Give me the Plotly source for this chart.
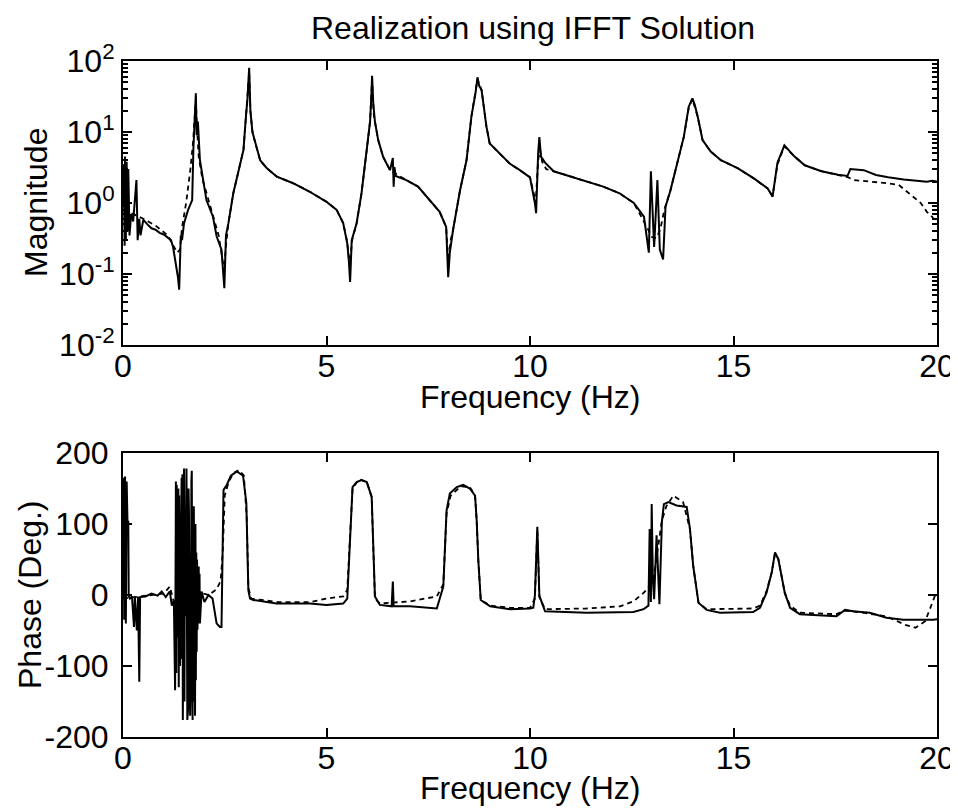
import plotly.graph_objects as go

# ---------------- data ----------------
mag_freq_solid = [0.00, 0.02, 0.04, 0.05, 0.07, 0.09, 0.11, 0.13, 0.16, 0.20, 0.25, 0.30, 0.33, 0.36, 0.40, 0.43,
                  0.50, 0.60, 0.70, 0.80, 0.90, 1.00, 1.10, 1.18, 1.23, 1.30, 1.35, 1.38, 1.42, 1.45, 1.50,
                  1.60, 1.70, 1.73, 1.76, 1.79, 1.81, 1.84, 1.89, 2.05, 2.21, 2.30, 2.42, 2.46, 2.49, 2.53,
                  2.59, 2.71, 2.83, 2.96, 3.02, 3.06, 3.10, 3.13, 3.18, 3.25, 3.37, 3.53, 3.78, 4.18, 4.59,
                  5.00, 5.25, 5.41, 5.51, 5.55, 5.58, 5.62, 5.74, 5.86, 5.99, 6.07, 6.10, 6.12, 6.15, 6.19,
                  6.27, 6.39, 6.56, 6.63, 6.65, 6.67, 6.70, 6.96, 7.25, 7.53, 7.78, 7.94, 7.99, 8.03, 8.11,
                  8.28, 8.44, 8.56, 8.66, 8.71, 8.75, 8.81, 8.93, 9.01, 9.26, 9.50, 9.75, 10.00, 10.12, 10.15,
                  10.20, 10.23, 10.27, 10.37, 10.58, 10.99, 11.40, 11.80, 12.20, 12.55, 12.80, 12.92, 12.97,
                  13.05, 13.13, 13.19, 13.27, 13.33, 13.45, 13.62, 13.78, 13.90, 13.99, 14.05, 14.12, 14.24,
                  14.44, 14.69, 15.10, 15.51, 15.84, 15.96, 16.08, 16.25, 16.50, 16.75, 17.16, 17.57, 17.80,
                  17.87, 18.00, 18.20, 18.50, 18.80, 19.18, 19.50, 19.75, 19.88, 20.00]
mag_solid = [0.9, 3.5, 0.25, 4.5, 0.3, 3.8, 0.4, 3.0, 0.35, 0.7, 0.55, 1.2, 2.1, 0.3, 0.6, 0.35,
             0.58, 0.5, 0.44, 0.42, 0.38, 0.36, 0.33, 0.3, 0.24, 0.14, 0.09, 0.06, 0.35, 0.3, 0.52,
             0.8, 1.1, 5.9, 12, 35, 9, 14, 4.0, 1.1, 0.64, 0.34, 0.22, 0.12, 0.063, 0.35,
             0.52, 1.37, 2.6, 5.6, 16.5, 30, 80, 20, 10, 7.0, 4.0, 3.1, 2.35, 1.9, 1.44,
             1.04, 0.8, 0.52, 0.27, 0.15, 0.077, 0.3, 0.52, 1.37, 5.6, 14, 30, 62, 25, 14,
             7.7, 4.5, 2.9, 4.3, 1.7, 3.2, 2.4, 2.1, 1.7, 1.1, 0.75, 0.46, 0.09, 0.2, 0.42,
             1.5, 4.0, 16.5, 35, 59, 45, 39, 11.9, 6.9, 5.0, 3.6, 2.9, 2.3, 1.0, 0.72,
             5.0, 8.5, 4.5, 3.7, 2.8, 2.35, 2.0, 1.7, 1.37, 1.0, 0.64, 0.2, 2.8,
             0.24, 2.1, 0.22, 0.16, 0.89, 1.5, 3.7, 8.6, 22.7, 29.7, 24, 16.5, 7.7,
             5.3, 4.0, 3.1, 2.2, 1.6, 1.23, 3.7, 6.5, 4.5, 3.4, 2.8, 2.5, 2.4,
             3.0, 2.95, 2.9, 2.48, 2.3, 2.15, 2.05, 2.0, 2.05, 2.0]

mag_freq_dashed = [0.00, 0.20, 0.50, 0.80, 1.10, 1.25, 1.33, 1.40, 1.45, 1.55, 1.65, 1.72, 1.77, 1.79, 1.81,
                   1.86, 1.95, 2.10, 2.25, 2.35, 2.43, 2.48, 2.53, 2.59, 2.71, 2.83, 2.96, 3.02, 3.06, 3.10,
                   3.13, 3.18, 3.25, 3.37, 3.53, 3.78, 4.18, 4.59, 5.00, 5.25, 5.41, 5.51, 5.57, 5.63, 5.74,
                   5.86, 5.99, 6.07, 6.12, 6.16, 6.19, 6.27, 6.39, 6.56, 6.96, 7.25, 7.53, 7.78, 7.94, 7.99,
                   8.05, 8.11, 8.28, 8.44, 8.56, 8.66, 8.71, 8.81, 8.93, 9.01, 9.26, 9.50, 9.75, 10.00, 10.10,
                   10.14, 10.20, 10.25, 10.30, 10.40, 10.58, 10.99, 11.40, 11.80, 12.20, 12.55, 12.75, 12.90,
                   13.00, 13.10, 13.20, 13.30, 13.45, 13.62, 13.78, 13.90, 13.99, 14.12, 14.24, 14.44, 14.69,
                   15.10, 15.51, 15.84, 15.96, 16.08, 16.25, 16.50, 16.75, 17.16, 17.57, 17.82, 17.96, 18.40,
                   18.78, 19.06, 19.27, 19.45, 19.60, 19.75, 19.88, 19.94, 20.00]
mag_dashed = [0.78, 0.72, 0.6, 0.48, 0.35, 0.25, 0.2, 0.22, 0.45, 1.0, 2.8, 7, 18, 28, 14,
              4.5, 2.2, 1.1, 0.6, 0.35, 0.18, 0.11, 0.25, 0.52, 1.37, 2.6, 5.6, 16, 30, 70,
              20, 10, 7.0, 4.0, 3.1, 2.35, 1.9, 1.44, 1.04, 0.8, 0.52, 0.28, 0.13, 0.3, 0.52,
              1.37, 5.6, 14, 55, 18, 14, 7.7, 4.5, 2.9, 2.1, 1.7, 1.1, 0.75, 0.46, 0.15,
              0.3, 0.42, 1.5, 4.0, 16.5, 35, 55, 39, 11.9, 6.9, 5.0, 3.6, 2.9, 2.3, 1.3,
              1.0, 4.0, 5.5, 3.8, 3.0, 2.8, 2.35, 2.0, 1.7, 1.37, 1.0, 0.62, 0.42,
              0.33, 0.32, 0.42, 0.8, 1.5, 3.7, 8.6, 22, 29, 16.5, 7.7, 5.3, 4.0,
              3.1, 2.2, 1.6, 1.25, 3.5, 6.3, 4.5, 3.4, 2.8, 2.5, 2.3, 2.1, 2.0,
              1.9, 1.8, 1.44, 1.2, 1.0, 0.75, 0.64, 0.57, 0.6]

ph_freq_solid = [0.00, 0.02, 0.03, 0.05, 0.07, 0.09, 0.11, 0.13, 0.14, 0.17, 0.22, 0.27, 0.29, 0.34, 0.37,
                 0.40, 0.42, 0.55, 0.70, 0.85, 0.95, 1.05, 1.15, 1.20,
                 1.25, 1.28, 1.30, 1.31, 1.32, 1.33, 1.36, 1.37, 1.38, 1.40,
                 1.44, 1.45, 1.46, 1.47, 1.50, 1.51, 1.52, 1.53, 1.56, 1.58,
                 1.60, 1.61, 1.62, 1.65, 1.67, 1.68, 1.69, 1.71, 1.72, 1.73,
                 1.74, 1.77, 1.78, 1.79, 1.80, 1.81, 1.82, 1.83, 1.84, 1.85,
                 1.86, 1.87, 1.88, 1.89, 1.93,
                 2.00, 2.10, 2.20, 2.30, 2.38, 2.42, 2.45, 2.47, 2.55, 2.65, 2.80, 2.95, 3.03,
                 3.06, 3.08, 3.12, 3.20, 3.77, 4.59, 5.00, 5.41, 5.51, 5.58, 5.64, 5.74, 5.86, 5.99, 6.11,
                 6.15, 6.19, 6.31, 6.60, 6.63, 6.65, 7.05, 7.71, 7.87, 7.95, 8.03, 8.20, 8.36, 8.52, 8.65,
                 8.69, 8.73, 8.79, 9.02, 9.51, 10.00, 10.08, 10.12, 10.18, 10.23, 10.37, 11.39, 12.21, 12.54,
                 12.79, 12.91, 12.94, 12.97, 12.99, 13.02, 13.05, 13.11, 13.18, 13.24, 13.29, 13.40, 13.60,
                 13.85, 13.93, 14.01, 14.14, 14.34, 14.67, 15.48, 15.65, 15.81, 15.94, 16.02, 16.10, 16.18,
                 16.26, 16.39, 16.63, 17.53, 17.74, 17.94, 18.35, 18.76, 19.17, 19.91, 20.00]
ph_solid = [-5, 165, -35, 167, -40, 160, 103, 103, -2, -5, -2, -45, -2, -50, -2,
            -122, -3, -2, 2, -1, 5, -3, 5, -15,
            -8, -134, 160, -110, 155, -60, 150, -130, 140, -100,
            165, -90, 170, -176, 178, -150, 100, -30, 178, -176,
            -160, 150, 120, -170, -120, 160, 175, -176, 80, -150,
            125, -170, 100, -120, 60, -80, 50, -49, 20, -40,
            40, -30, 30, -40, 5,
            -10, 0, -5, -40, -45, -45, 73, 148, 155, 168, 174, 168, 130,
            60, 7, -5, -7, -12, -12, -14, -12, -5, 87, 152, 159, 162, 159, 138,
            68, -2, -14, -16, 19, -16, -16, -19, 12, 119, 143, 152, 155, 150, 140,
            105, 49, -7, -16, -20, -19, -18, -1, 96, -1, -23, -25, -25, -24,
            -20, -15, 93, -10, 128, 20, -6, 84, -13, 103, 128, 131, 126,
            124, 93, 41, -11, -21, -25, -24, -18, 3, 32, 60, 51, 27,
            3, -18, -27, -30, -21, -23, -25, -32, -35, -35, -34]

ph_freq_dashed = [0.00, 0.30, 0.70, 1.00, 1.15, 1.25, 1.50, 1.80, 2.10, 2.30, 2.40, 2.45, 2.50, 2.60, 2.72,
                  2.85, 2.97, 3.04, 3.08, 3.15, 3.80, 4.60, 5.00, 5.41, 5.51, 5.58, 5.64, 5.80, 5.99, 6.11,
                  6.15, 6.19, 6.31, 7.05, 7.71, 7.87, 7.95, 8.05, 8.30, 8.52, 8.65, 8.69, 8.73, 8.79, 9.02,
                  9.51, 10.00, 10.12, 10.18, 10.23, 10.37, 11.39, 12.21, 12.54, 12.79, 12.87, 13.03, 13.15,
                  13.24, 13.35, 13.52, 13.76, 13.93, 14.01, 14.14, 14.34, 14.67, 15.48, 15.65, 15.81, 15.94,
                  16.02, 16.10, 16.18, 16.26, 16.39, 16.63, 17.53, 17.74, 17.94, 18.76, 19.22, 19.47, 19.71,
                  19.84, 19.95, 20.00]
ph_dashed = [-5, -3, 0, 2, 12, -10, 0, 5, 0, 8, 20, 60, 140, 160, 172,
             176, 168, 110, 10, -5, -10, -10, -5, -2, 7, 80, 150, 163, 159, 138,
             68, -5, -12, -9, -2, 15, 115, 140, 153, 152, 140, 105, 49, -7, -15,
             -18, -18, -5, 90, -3, -20, -19, -16, -9, 3, 8, 20, 65,
             105, 125, 140, 131, 93, 41, -11, -20, -20, -19, -15, 5, 32,
             58, 51, 27, 3, -15, -25, -27, -22, -23, -30, -42, -46, -37,
             -16, -1, 0]

x_tickvals = [0, 5, 10, 15, 20]
mag_tickvals = [0.01, 0.1, 1, 10, 100]
mag_ticktext = ["10<sup>-2</sup>", "10<sup>-1</sup>", "10<sup>0</sup>", "10<sup>1</sup>", "10<sup>2</sup>"]
mag_minor = [m * 10.0 ** k for k in range(-2, 2) for m in range(2, 10)]
ph_tickvals = [-200, -100, 0, 100, 200]
ph_ticktext = ["-200", "-100", "0", "100", "200"]

title_text = "Realization using IFFT Solution"
xlabel_text = "Frequency (Hz)"
ylabel_top = "Magnitude"
ylabel_bottom = "Phase (Deg.)"

# ---------------- layout helpers ----------------
# The page body has an 8px margin, so the figure starts at window pixel (8, 8);
# px()/py() convert window pixel positions to paper coordinates.
OFF = 8
W, H = 950, 804
FONT = "Liberation Sans, Arial, Helvetica, sans-serif"
FS = 32


def px(xp):
    return (xp - OFF) / W


def py(yp):
    return 1 - (yp - OFF) / H


fig = go.Figure()
solid = dict(color="black", width=2)
dashed = dict(color="black", width=1.8, dash="5px,4px")
fig.add_trace(go.Scatter(x=mag_freq_dashed, y=mag_dashed, mode="lines", line=dashed, xaxis="x", yaxis="y"))
fig.add_trace(go.Scatter(x=mag_freq_solid, y=mag_solid, mode="lines", line=solid, xaxis="x", yaxis="y"))
fig.add_trace(go.Scatter(x=ph_freq_dashed, y=ph_dashed, mode="lines", line=dashed, xaxis="x2", yaxis="y2"))
fig.add_trace(go.Scatter(x=ph_freq_solid, y=ph_solid, mode="lines", line=solid, xaxis="x2", yaxis="y2"))

axis_common = dict(
    showline=True, mirror="ticks", linecolor="black", linewidth=2,
    ticks="inside", ticklen=9, tickwidth=2, tickcolor="black",
    showgrid=False, zeroline=False, automargin=False,
    tickfont=dict(family=FONT, size=FS, color="black"),
)
xdom = [px(123), px(937)]
fig.update_layout(
    width=W, height=H,
    margin=dict(l=0, r=0, t=0, b=0),
    paper_bgcolor="white", plot_bgcolor="white",
    showlegend=False,
    font=dict(family=FONT, size=FS, color="black"),
    xaxis=dict(domain=xdom, anchor="y", range=[0, 20], tickmode="array", tickvals=x_tickvals,
               ticklabelstandoff=-8, **axis_common),
    yaxis=dict(domain=[py(345), py(61)], anchor="x", type="log", range=[-2, 2],
               tickmode="array", tickvals=mag_tickvals, ticktext=mag_ticktext,
               minor=dict(tickmode="array", tickvals=mag_minor, ticks="inside", ticklen=5,
                          tickwidth=1.5, tickcolor="black", showgrid=False),
               **axis_common),
    xaxis2=dict(domain=xdom, anchor="y2", range=[0, 20], tickmode="array", tickvals=x_tickvals,
                ticklabelstandoff=-8, **axis_common),
    yaxis2=dict(domain=[py(737), py(453)], anchor="x2", range=[-200, 200],
                tickmode="array", tickvals=ph_tickvals, ticktext=ph_ticktext,
                ticklabelstandoff=6, **axis_common),
)

ann_font = dict(family=FONT, size=FS, color="black")
fig.add_annotation(text=title_text, xref="paper", yref="paper", x=px(533), y=py(8),
                   xanchor="center", yanchor="top", showarrow=False, font=ann_font)
fig.add_annotation(text=xlabel_text, xref="paper", yref="paper", x=px(530), y=py(377),
                   xanchor="center", yanchor="top", showarrow=False, font=ann_font)
fig.add_annotation(text=xlabel_text, xref="paper", yref="paper", x=px(530), y=py(768),
                   xanchor="center", yanchor="top", showarrow=False, font=ann_font)
fig.add_annotation(text=ylabel_top, xref="paper", yref="paper", x=px(36), y=py(203),
                   xanchor="center", yanchor="middle", textangle=-90, showarrow=False, font=ann_font)
fig.add_annotation(text=ylabel_bottom, xref="paper", yref="paper", x=px(30), y=py(595),
                   xanchor="center", yanchor="middle", textangle=-90, showarrow=False, font=ann_font)

fig.write_html("out.html")
